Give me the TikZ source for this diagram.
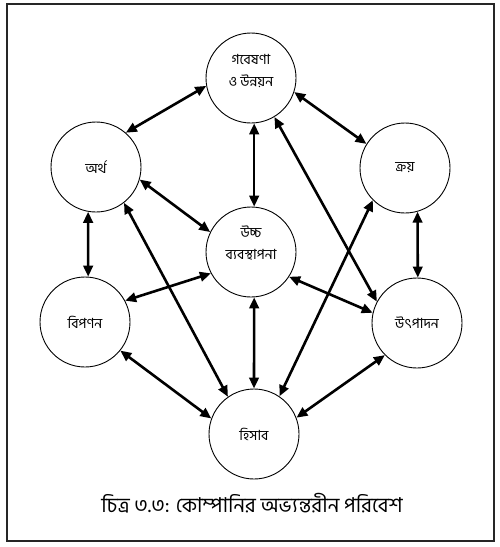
\documentclass[tikz,border=0pt]{standalone}
\usepackage{fontspec}
\newfontfamily\bn[Script=Bengali]{Hind Siliguri}
\usetikzlibrary{arrows.meta}
\begin{document}
\begin{tikzpicture}[x=1pt,y=-1pt,
  circ/.style={circle,draw,line width=0.9pt,minimum size=90pt,inner sep=0pt},
  lbl/.style={font=\bn\fontsize{14}{22}\selectfont,align=center,inner sep=0pt},
  captxt/.style={font=\bn\fontsize{20.5}{24}\selectfont,inner sep=0pt},
  link/.style={line width=2.6pt,{Triangle[length=11pt,width=9.5pt]}-{Triangle[length=11pt,width=9.5pt]}}]
\useasboundingbox (0,0) rectangle (499,547);
\draw[line width=1.6pt,black!85] (7,4) rectangle (494,541);
% circles
\node[circ] (rd)   at (251,78)  {};
\node[circ] (fin)  at (96,167)  {};
\node[circ] (pur)  at (405,168) {};
\node[circ] (mgmt) at (251,252) {};
\node[circ] (mkt)  at (85,322)  {};
\node[circ] (prod) at (417,323) {};
\node[circ] (acc)  at (254,434) {};
% labels
\node[lbl] (rdt)   at (251,71)  {গবেষণা\\ও উন্নয়ন};
\node[lbl] (fint)  at (96,167)  {অর্থ};
\node[lbl] (purt)  at (405,168) {ক্রয়};
\node[lbl] (mgmtt) at (251,243) {উচ্চ\\ব্যবস্থাপনা};
\node[lbl] (mktt)  at (85,322)  {বিপণন};
\node[lbl] (prodt) at (417,323) {উৎপাদন};
\node[lbl] (acct)  at (254,434) {হিসাব};
\node[captxt] (caption) at (252,503) {চিত্র ৩.৩: কোম্পানির অভ্যন্তরীন পরিবেশ};
% connectors
\draw[link] (fin.49)   -- (rd.190);
\draw[link] (rd.-18)   -- (pur.148);
\draw[link] (rd.-86)   -- (mgmt.86);
\draw[link] (rd.-59)   -- (prod.152);
\draw[link] (fin.-16)  -- (mgmt.154);
\draw[link] (fin.-100) -- (mkt.86);
\draw[link] (fin.-52)  -- (acc.125);
\draw[link] (pur.-135) -- (acc.56);
\draw[link] (pur.-74)  -- (prod.89);
\draw[link] (mgmt.208) -- (mkt.28);
\draw[link] (mgmt.-33) -- (prod.167);
\draw[link] (mgmt.-86) -- (acc.90);
\draw[link] (mkt.-39)  -- (acc.160);
\draw[link] (prod.-135) -- (acc.21);
\end{tikzpicture}
\end{document}
